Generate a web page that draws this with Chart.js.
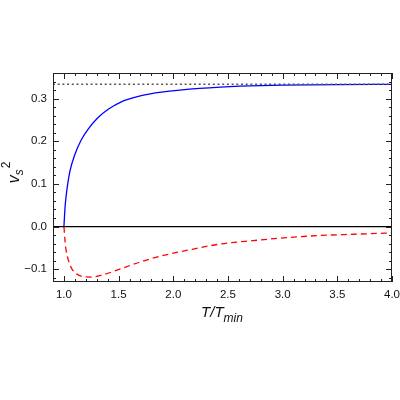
<!DOCTYPE html>
<html>
<head>
<meta charset="utf-8">
<script src="https://cdn.jsdelivr.net/npm/chart.js@4/dist/chart.umd.min.js"></script>
<style>
  html, body { margin: 0; padding: 0; background: #fff; }
  #wrap { width: 400px; height: 400px; position: relative; }
</style>
</head>
<body>
<div id="wrap"><canvas id="vsChart"></canvas></div>
<script>
// --- Data ---
const blueX = [1.0, 1.006, 1.012, 1.025, 1.055, 1.10, 1.16, 1.22, 1.31, 1.405, 1.53, 1.68, 1.79, 1.89, 2.06, 2.24, 2.43, 2.61, 2.8, 3.0, 3.5, 4.0];
const blueY = [0.0, 0.028, 0.051, 0.082, 0.130, 0.169, 0.204, 0.228, 0.255, 0.275, 0.293, 0.305, 0.311, 0.315, 0.320, 0.324, 0.327, 0.329, 0.3305, 0.3315, 0.3328, 0.3332];

const redX = [1.0, 1.009, 1.015, 1.04, 1.07, 1.116, 1.19, 1.25, 1.345, 1.53, 1.71, 1.89, 2.14, 2.43, 2.73, 3.04, 3.34, 3.65, 4.0];
const redY = [0.0, -0.031, -0.047, -0.078, -0.098, -0.111, -0.118, -0.1185, -0.114, -0.098, -0.082, -0.069, -0.055, -0.041, -0.033, -0.026, -0.021, -0.018, -0.015];

const conformalLimit = 1 / 3;
const xRange = [0.9, 4.0];
const yRange = [-0.13, 0.36];
const xTicks = [1.0, 1.5, 2.0, 2.5, 3.0, 3.5, 4.0];
const yTicks = [-0.1, 0.0, 0.1, 0.2, 0.3];
const xMinorStep = 0.1;
const yMinorStep = 0.02;

function toPoints(xs, ys) {
    return xs.map((x, i) => ({ x: x, y: ys[i] }));
}

function fmtTick(v) {
    return v.toFixed(1).replace('-', '\u2212');
}

// Mathematica-like frame: box + inward major/minor ticks on all sides, plus axis titles
const frameTicks = {
    id: 'frameTicks',
    afterDraw(chart) {
        const ctx = chart.ctx;
        const a = chart.chartArea;
        const xs = chart.scales.x, ys = chart.scales.y;
        ctx.save();
        ctx.strokeStyle = '#222';
        ctx.lineWidth = 1;
        ctx.strokeRect(a.left + 0.5, a.top + 0.5, a.right - a.left - 1, a.bottom - a.top - 1);

        ctx.beginPath();
        // x ticks
        for (let i = 0; ; i++) {
            const v = Math.round((xRange[0] + i * xMinorStep) * 100) / 100;
            if (v > xRange[1] + 1e-9) break;
            const major = xTicks.some(t => Math.abs(t - v) < 1e-6);
            const len = major ? 6 : 3;
            const p = Math.round(xs.getPixelForValue(v)) + 0.5;
            ctx.moveTo(p, a.bottom); ctx.lineTo(p, a.bottom - len);
            ctx.moveTo(p, a.top); ctx.lineTo(p, a.top + len);
        }
        // y ticks
        for (let i = 0; ; i++) {
            const v = Math.round((-0.12 + i * yMinorStep) * 1000) / 1000;
            if (v > yRange[1] + 1e-9) break;
            const major = yTicks.some(t => Math.abs(t - v) < 1e-6);
            const len = major ? 6 : 3;
            const p = Math.round(ys.getPixelForValue(v)) + 0.5;
            ctx.moveTo(a.left, p); ctx.lineTo(a.left + len, p);
            ctx.moveTo(a.right, p); ctx.lineTo(a.right - len, p);
        }
        ctx.stroke();

        // x title: T/T_min
        ctx.fillStyle = '#111';
        ctx.textBaseline = 'alphabetic';
        ctx.textAlign = 'left';
        const big = 'italic 15px "Liberation Sans", Arial, sans-serif';
        const small = 'italic 12px "Liberation Sans", Arial, sans-serif';
        ctx.font = big;
        const w1 = ctx.measureText('T/T').width;
        ctx.font = small;
        const w2 = ctx.measureText('min').width;
        const sx = 222 - (w1 + w2) / 2;
        ctx.font = big;
        ctx.fillText('T/T', sx, 317);
        ctx.font = small;
        ctx.fillText('min', sx + w1, 322);

        // y title: v_s^2 (rotated)
        ctx.translate(19, 173);
        ctx.rotate(-Math.PI / 2);
        ctx.font = 'italic 16px "Liberation Sans", Arial, sans-serif';
        const wv = ctx.measureText('v').width;
        ctx.font = small;
        const ws = ctx.measureText('s').width;
        const w22 = ctx.measureText('2').width;
        const ox = -(wv + ws + w22) / 2;
        ctx.font = 'italic 16px "Liberation Sans", Arial, sans-serif';
        ctx.fillText('v', ox, 0);
        ctx.font = small;
        ctx.fillText('s', ox + wv, 4);
        ctx.font = '12px "Liberation Sans", Arial, sans-serif';
        ctx.fillText('2', ox + wv + ws + 1, -9);
        ctx.restore();
    }
};

new Chart(document.getElementById('vsChart'), {
    type: 'line',
    data: {
        datasets: [
            {
                label: 'limit',
                data: toPoints(xRange, [conformalLimit, conformalLimit]),
                borderColor: '#555',
                borderWidth: 1.5,
                borderDash: [2, 2.7],
                pointRadius: 0
            },
            {
                label: 'zero',
                data: toPoints(xRange, [0, 0]),
                borderColor: '#000',
                borderWidth: 1.2,
                pointRadius: 0
            },
            {
                label: 'stable',
                data: toPoints(blueX, blueY),
                borderColor: '#0000ff',
                borderWidth: 1.3,
                pointRadius: 0,
                cubicInterpolationMode: 'monotone'
            },
            {
                label: 'unstable',
                data: toPoints(redX, redY),
                borderColor: '#ff0000',
                borderWidth: 1.3,
                borderDash: [6, 4],
                pointRadius: 0,
                cubicInterpolationMode: 'monotone'
            }
        ]
    },
    options: {
        responsive: true,
        maintainAspectRatio: false,
        animation: false,
        layout: { padding: { left: 0, right: 8, top: 73, bottom: 0 } },
        plugins: { legend: { display: false }, tooltip: { enabled: false } },
        scales: {
            x: {
                type: 'linear',
                min: xRange[0],
                max: xRange[1],
                afterBuildTicks: s => { s.ticks = xTicks.map(v => ({ value: v })); },
                afterFit: s => { s.height = 118; s.paddingLeft = 0; s.paddingRight = 0; },
                grid: { display: false, drawTicks: false },
                border: { display: false },
                ticks: {
                    padding: 6,
                    color: '#111',
                    maxRotation: 0,
                    font: { family: '"Liberation Sans", Arial, sans-serif', size: 11.5 },
                    callback: v => fmtTick(v)
                }
            },
            y: {
                type: 'linear',
                min: yRange[0],
                max: yRange[1],
                afterBuildTicks: s => { s.ticks = yTicks.map(v => ({ value: v })); },
                afterFit: s => { s.width = 53; s.paddingTop = 0; s.paddingBottom = 0; },
                grid: { display: false, drawTicks: false },
                border: { display: false },
                ticks: {
                    padding: 6,
                    color: '#111',
                    font: { family: '"Liberation Sans", Arial, sans-serif', size: 11.5 },
                    callback: v => fmtTick(v)
                }
            }
        }
    },
    plugins: [frameTicks]
});
</script>
</body>
</html>
